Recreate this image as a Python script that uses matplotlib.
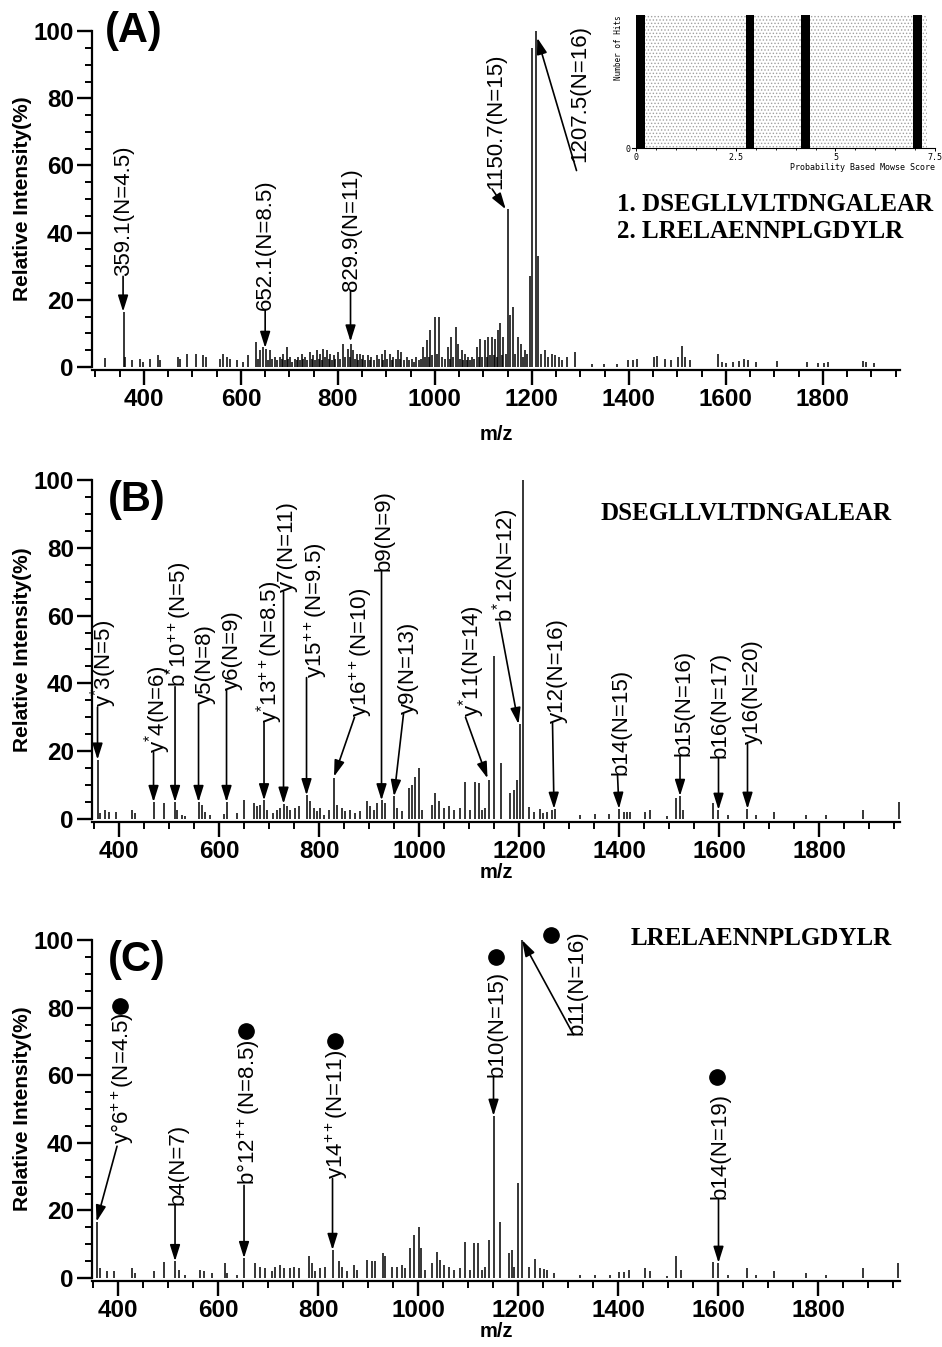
import matplotlib.pyplot as plt
from matplotlib.patches import Rectangle
from matplotlib.ticker import MultipleLocator, FixedLocator

plt.rcParams['font.family'] = ['Liberation Sans', 'DejaVu Sans']
plt.rcParams['mathtext.fontset'] = 'custom'
plt.rcParams['mathtext.rm'] = 'Liberation Sans'
plt.rcParams['mathtext.it'] = 'Liberation Sans'
plt.rcParams['hatch.linewidth'] = 0.6

# ---- (A) full MS/MS spectrum of the precursor ----
a_mz = [319, 359, 362, 375, 392, 399, 413, 430, 434, 471, 474, 489, 508, 522, 529,
        557, 564, 571, 577, 591, 605, 615, 632, 636, 639, 646, 652, 656, 660, 665,
        670, 675, 680, 684, 687, 691, 694, 698, 701, 705, 712, 715, 718, 722, 725,
        729, 732, 737, 742, 746, 749, 752, 756, 760, 763, 767, 770, 774, 777, 781,
        784, 788, 791, 795, 801, 805, 811, 815, 820, 824, 828, 832, 836, 839, 842,
        845, 849, 852, 856, 862, 866, 869, 874, 880, 885, 890, 894, 897, 902, 907,
        911, 914, 919, 924, 928, 931, 936, 942, 947, 952, 957, 962, 967, 972, 976,
        980, 983, 987, 990, 995, 1000, 1004, 1009, 1014, 1020, 1027, 1031, 1034,
        1038, 1043, 1048, 1052, 1055, 1058, 1062, 1066, 1069, 1073, 1076, 1080,
        1086, 1090, 1093, 1098, 1103, 1107, 1110, 1114, 1117, 1121, 1124, 1128,
        1131, 1134, 1138, 1141, 1146, 1150.7, 1155, 1161, 1166, 1172, 1177, 1181,
        1185, 1190, 1196, 1201, 1207.5, 1212, 1218, 1227, 1234, 1241, 1248, 1255,
        1262, 1272, 1289, 1324, 1348, 1375, 1399, 1409, 1417, 1451, 1457, 1474,
        1486, 1501, 1510, 1515, 1525, 1584, 1591, 1601, 1615, 1628, 1638, 1645,
        1662, 1706, 1768, 1789, 1803, 1810, 1882, 1889, 1906]
a_int = [2.6, 16.5, 3.0, 2.0, 2.5, 1.5, 2.5, 3.5, 2.0, 3.0, 2.5, 4.0, 4.0, 3.5, 3.0,
         2.5, 4.0, 3.0, 2.5, 2.0, 1.5, 3.5, 7.5, 2.5, 5.0, 6.0, 5.5, 2.0, 5.0, 2.5,
         3.0, 2.0, 3.0, 2.5, 4.0, 2.0, 6.0, 2.5, 3.0, 1.5, 2.5, 2.0, 3.0, 2.0, 4.0,
         2.5, 3.0, 2.0, 4.5, 2.5, 3.5, 2.0, 5.0, 2.5, 4.0, 2.0, 5.5, 3.0, 5.0, 2.5,
         4.0, 2.0, 3.5, 2.5, 4.5, 2.5, 7.0, 3.0, 5.5, 3.0, 7.0, 5.0, 2.5, 4.0, 2.0,
         4.0, 2.5, 3.5, 2.0, 3.5, 2.0, 3.0, 2.0, 3.5, 2.5, 4.0, 2.0, 5.0, 2.5, 4.0,
         2.0, 3.0, 2.5, 5.0, 2.5, 4.5, 2.0, 3.0, 2.0, 2.5, 1.5, 3.0, 2.0, 2.5, 6.0,
         3.0, 8.0, 3.0, 11.0, 3.5, 15.0, 4.0, 15.0, 3.0, 2.5, 6.0, 2.5, 9.0, 3.0,
         12.0, 7.0, 2.5, 5.0, 2.0, 4.0, 2.0, 3.0, 2.0, 3.0, 2.5, 6.0, 3.0, 8.5, 3.0,
         8.0, 3.0, 9.0, 3.5, 9.0, 3.5, 8.5, 3.0, 11.0, 13.0, 3.5, 9.0, 4.0, 47.0,
         15.5, 18.0, 4.0, 9.0, 7.0, 3.0, 5.0, 4.0, 27.0, 95.0, 100.0, 33.0, 4.0,
         5.0, 3.0, 4.0, 3.5, 3.0, 2.0, 3.0, 4.5, 1.0, 1.0, 1.0, 2.0, 2.0, 2.5, 3.0,
         3.2, 2.5, 2.0, 3.0, 6.4, 3.0, 2.2, 4.0, 1.5, 1.2, 1.5, 1.8, 2.5, 2.2, 1.5,
         1.8, 1.5, 1.2, 1.2, 1.5, 1.8, 1.5, 1.2]
a_labels = ['359.1(N=4.5)', '652.1(N=8.5)', '829.9(N=11)', '1150.7(N=15)',
            '1207.5(N=16)']
a_text_xy = [(359, 27.0), (650, 17.0), (828, 22.5), (1125, 53.0), (1298, 61.0)]
a_arrows = [((357, 27.0), (357, 16.5)), ((650, 17.0), (650, 5.7)),
            ((826, 22.5), (826, 7.6)), ((1118, 53.0), (1146, 47.0)),
            ((1292, 58.5), (1211, 98.0))]

# Mowse score histogram (inset)
mowse_scores = [0.11, 2.86, 4.24, 7.06]
mowse_hits = [1, 1, 1, 1]
candidates = ['1. DSEGLLVLTDNGALEAR', '2. LRELAENNPLGDYLR']

# ---- (B) DSEGLLVLTDNGALEAR ----
b_mz = [357, 362, 372, 379, 394, 425, 432, 469, 490, 512, 515, 525, 531, 559, 565,
        572, 582, 609, 615, 635, 649, 669, 675, 682, 690, 695, 707, 715, 722, 729,
        735, 742, 752, 759, 775, 782, 789, 795, 802, 809, 819, 829, 835, 845, 852,
        862, 872, 882, 895, 902, 909, 915, 925, 932, 949, 955, 965, 979, 985, 992,
        999, 1005, 1025, 1032, 1039, 1049, 1059, 1069, 1082, 1092, 1102, 1112,
        1119, 1125, 1132, 1139, 1149, 1163, 1182, 1189, 1195, 1201, 1207, 1219,
        1229, 1241, 1247, 1255, 1265, 1272, 1322, 1351, 1379, 1400, 1409, 1415,
        1422, 1452, 1462, 1495, 1515, 1522, 1529, 1589, 1599, 1619, 1657, 1675,
        1710, 1774, 1814, 1889, 1960]
b_int = [17.5, 1.8, 2.7, 2.2, 2.0, 2.7, 1.8, 5.0, 4.7, 5.0, 2.7, 1.3, 1.0, 5.0, 4.2,
         2.2, 1.3, 1.5, 5.0, 1.8, 5.7, 4.7, 3.7, 4.2, 5.5, 2.7, 1.8, 2.7, 3.2, 4.5,
         3.7, 2.7, 3.2, 3.7, 7.0, 5.2, 3.2, 2.3, 3.2, 1.3, 2.7, 12.0, 4.2, 3.2, 2.3,
         2.7, 1.8, 2.3, 5.2, 3.7, 2.7, 4.7, 5.5, 4.7, 6.7, 3.2, 2.3, 9.0, 10.0, 12.5,
         15.0, 2.7, 4.2, 7.6, 5.2, 3.2, 3.7, 2.7, 3.2, 11.0, 2.7, 11.0, 10.6, 2.7,
         3.2, 11.6, 48.0, 16.5, 7.6, 8.6, 11.6, 28.0, 100.0, 3.4, 2.2, 3.0, 1.8,
         2.2, 2.7, 3.0, 1.2, 1.5, 1.5, 3.0, 2.0, 2.2, 2.2, 2.2, 2.7, 0.8, 6.3, 6.8,
         2.7, 4.7, 2.7, 1.3, 3.0, 1.3, 2.2, 1.3, 1.3, 2.7, 4.9]
b_labels = [r'y$^{*}$3(N=5)', r'y$^{*}$4(N=6)', r'b$^{*}$10$^{++}$(N=5)', 'y5(N=8)',
            'y6(N=9)', r'y$^{*}$13$^{++}$(N=8.5)', 'y7(N=11)', r'y15$^{++}$(N=9.5)',
            r'y16$^{++}$(N=10)', 'b9(N=9)', 'y9(N=13)', r'y$^{*}$11(N=14)',
            r'b$^{*}$12(N=12)', 'y12(N=16)', 'b14(N=15)', 'b15(N=16)', 'b16(N=17)',
            'y16(N=20)']
b_text_xy = [(369, 33), (477, 19.6), (520, 39), (572, 34), (626, 38), (702, 28.4),
             (736, 67), (793, 41.7), (883, 30), (931, 73), (979, 31), (1105, 30),
             (1173, 58), (1277, 28.4), (1405, 13), (1531, 18.6), (1603, 18),
             (1666, 22)]
b_arrows = [((357, 33), (357, 17.5)), ((469, 19.6), (469, 5.0)),
            ((512, 39), (512, 5.0)), ((559, 34), (559, 5.0)),
            ((615, 38), (615, 5.0)), ((690, 28.4), (690, 5.5)),
            ((729, 67), (729, 4.5)), ((775, 41.7), (775, 7.0)),
            ((871, 30), (830, 12.5)), ((925, 73), (925, 5.5)),
            ((969, 31), (950, 6.7)), ((1093, 30), (1137, 12.0)),
            ((1161, 58), (1199, 28.0)), ((1267, 28.4), (1270, 3.0)),
            ((1397, 13), (1400, 3.0)), ((1522, 18.6), (1522, 6.8)),
            ((1599, 18), (1599, 2.7)), ((1657, 22), (1657, 3.0))]

# ---- (C) LRELAENNPLGDYLR ----
c_mz = [357, 364, 377, 391, 427, 434, 471, 492, 514, 521, 534, 564, 571, 587, 614,
        617, 637, 652, 674, 684, 694, 707, 714, 724, 731, 744, 752, 761, 781, 787,
        794, 804, 814, 829, 841, 847, 857, 871, 877, 897, 907, 914, 929, 934, 947,
        957, 967, 974, 984, 992, 1001, 1006, 1014, 1027, 1037, 1044, 1051, 1061,
        1071, 1084, 1094, 1104, 1112, 1119, 1127, 1134, 1141, 1151, 1164, 1181,
        1187, 1192, 1199, 1207, 1221, 1234, 1244, 1251, 1257, 1271, 1324, 1354,
        1383, 1401, 1411, 1421, 1454, 1463, 1497, 1516, 1527, 1591, 1601, 1621,
        1659, 1677, 1712, 1776, 1816, 1891, 1960]
c_int = [16.7, 3.0, 2.0, 2.0, 3.0, 1.5, 2.0, 4.6, 5.0, 2.5, 1.0, 2.5, 2.0, 1.5, 4.4,
         1.5, 1.0, 5.9, 4.4, 3.4, 3.0, 2.0, 3.4, 3.9, 3.0, 3.0, 3.4, 3.0, 6.4, 4.4,
         2.0, 3.0, 3.4, 8.3, 4.9, 3.4, 2.0, 3.9, 2.5, 5.4, 4.9, 4.9, 7.4, 6.4, 3.4,
         3.4, 3.9, 3.0, 8.8, 12.7, 15.2, 8.8, 2.5, 4.4, 7.8, 5.4, 3.9, 3.4, 2.5,
         3.0, 10.8, 2.5, 10.3, 10.3, 2.5, 3.4, 11.3, 48.0, 16.7, 7.4, 8.3, 3.4,
         28.0, 100.0, 3.2, 5.6, 3.0, 2.7, 2.5, 1.5, 1.0, 1.0, 1.0, 1.7, 1.7, 2.5,
         3.0, 2.0, 0.7, 6.6, 2.5, 4.6, 4.5, 1.0, 3.0, 1.0, 2.0, 1.5, 1.0, 3.0, 4.4]
c_labels = [r'y°6$^{++}$(N=4.5)', 'b4(N=7)', r'b°12$^{++}$(N=8.5)',
            r'y14$^{++}$(N=11)', 'b10(N=15)', 'b11(N=16)', 'b14(N=19)']
c_text_xy = [(410, 39.7), (521, 21.5), (662, 27.4), (837, 29.4), (1158, 59.4),
             (1319, 72), (1605, 23.5)]
c_arrows = [((398, 39), (357, 16.7)), ((514, 21.5), (514, 5.0)),
            ((652, 27.4), (652, 5.9)), ((829, 29.4), (829, 8.3)),
            ((1151, 59.4), (1151, 48.0)), ((1311, 72), (1208, 100.0)),
            ((1601, 23.5), (1601, 4.5))]
c_dots = [(404, 80.5), (656, 73), (834, 70.2), (1156, 95), (1266, 101.5), (1599, 59.4)]

TICK_FONT = ['Liberation Sans Narrow', 'Liberation Sans', 'DejaVu Sans']


def spectrum(ax, mz, inten, xlim, labels, text_xy, arrows, xlabelpad):
    ax.vlines(mz, 0, inten, color='black', lw=1.1)
    ax.set_xlim(*xlim)
    ax.set_ylim(0, 100)
    for s in ('top', 'right'):
        ax.spines[s].set_visible(False)
    ax.spines['bottom'].set_position(('outward', 2))
    for s in ('left', 'bottom'):
        ax.spines[s].set_linewidth(1.6)
    ax.xaxis.set_major_locator(FixedLocator(range(400, 2000, 200)))
    ax.xaxis.set_minor_locator(MultipleLocator(50))
    ax.yaxis.set_major_locator(MultipleLocator(20))
    ax.yaxis.set_minor_locator(MultipleLocator(5))
    ax.tick_params(which='major', direction='out', length=11, width=1.7, pad=2)
    ax.tick_params(which='minor', direction='out', length=5, width=1.4)
    for lab in ax.get_xticklabels() + ax.get_yticklabels():
        lab.set_family(TICK_FONT)
        lab.set_fontweight('bold')
        lab.set_fontsize(17.5)
    ax.set_xlabel('m/z', fontsize=14.5, fontweight='bold', labelpad=xlabelpad)
    ax.set_ylabel('Relative Intensity(%)', fontsize=15, fontweight='bold', labelpad=1)

    for text, (tx, ty), (start, tip) in zip(labels, text_xy, arrows):
        ax.text(tx, ty, text, rotation=90, ha='center', va='bottom', fontsize=16,
                clip_on=False)
        ax.annotate('', xy=tip, xytext=start, annotation_clip=False,
                    arrowprops=dict(arrowstyle='-|>,head_length=0.7,head_width=0.22',
                                    color='black', lw=1.2, mutation_scale=14,
                                    shrinkA=0, shrinkB=0))


fig = plt.figure(figsize=(9.42, 13.47), dpi=100)

ax_a = fig.add_axes([0.0977, 0.7275, 0.8577, 0.2494])
spectrum(ax_a, a_mz, a_int, (293, 1959), a_labels, a_text_xy, a_arrows, 10)
ax_a.text(0.016, 1.06, '(A)', transform=ax_a.transAxes, fontsize=30,
          fontweight='bold', va='top', ha='left')
for i, line in enumerate(candidates):
    fig.text(0.655, 0.848 - i * 0.0195, line, family='Liberation Serif',
             fontweight='bold', fontsize=18, va='center', ha='left')

ax_b = fig.add_axes([0.0977, 0.392, 0.8577, 0.2517])
spectrum(ax_b, b_mz, b_int, (346, 1962), b_labels, b_text_xy, b_arrows, 0)
ax_b.text(0.02, 1.0, '(B)', transform=ax_b.transAxes, fontsize=30,
          fontweight='bold', va='top', ha='left')
ax_b.text(1363, 90, 'DSEGLLVLTDNGALEAR', family='Liberation Serif',
          fontweight='bold', fontsize=18, va='center', ha='left')

ax_c = fig.add_axes([0.0977, 0.0512, 0.8577, 0.2509])
spectrum(ax_c, c_mz, c_int, (348, 1964), c_labels, c_text_xy, c_arrows, 0)
ax_c.text(0.02, 1.0, '(C)', transform=ax_c.transAxes, fontsize=30,
          fontweight='bold', va='top', ha='left')
ax_c.text(1425, 100.5, 'LRELAENNPLGDYLR', family='Liberation Serif',
          fontweight='bold', fontsize=18, va='center', ha='left')
ax_c.plot([d[0] for d in c_dots], [d[1] for d in c_dots], 'o', color='black',
          ms=11, clip_on=False)

# inset: Mowse score distribution of the candidate peptides
ax_in = fig.add_axes([0.671, 0.890, 0.3217, 0.0987])
ax_in.set_xlim(-0.1, 7.5)
ax_in.set_ylim(0, 1)
ax_in.add_patch(Rectangle((0, 0), 7.3, 1, facecolor='white', edgecolor='#a0a0a0',
                          hatch='.....', lw=0))
ax_in.bar(mowse_scores, mowse_hits, width=0.22, color='black')
for s in ('top', 'right', 'left'):
    ax_in.spines[s].set_visible(False)
ax_in.spines['bottom'].set_linewidth(0.8)
ax_in.set_xticks([0, 2.5, 5, 7.5])
ax_in.set_xticklabels(['0', '2.5', '5', '7.5'])
ax_in.xaxis.set_minor_locator(MultipleLocator(0.5))
ax_in.set_yticks([0])
ax_in.tick_params(labelsize=6, length=2.5, width=0.7, pad=1)
ax_in.tick_params(axis='y', length=0)
ax_in.tick_params(which='minor', length=1.5, width=0.6)
for lab in ax_in.get_xticklabels() + ax_in.get_yticklabels():
    lab.set_family('DejaVu Sans Mono')
ax_in.set_xlabel('Probability Based Mowse Score', fontsize=6, family='DejaVu Sans Mono',
                 loc='right', labelpad=1)
ax_in.set_ylabel('Number of Hits', fontsize=5.5, family='DejaVu Sans Mono',
                 loc='top', labelpad=2)

fig.savefig('out.png', dpi=100)
